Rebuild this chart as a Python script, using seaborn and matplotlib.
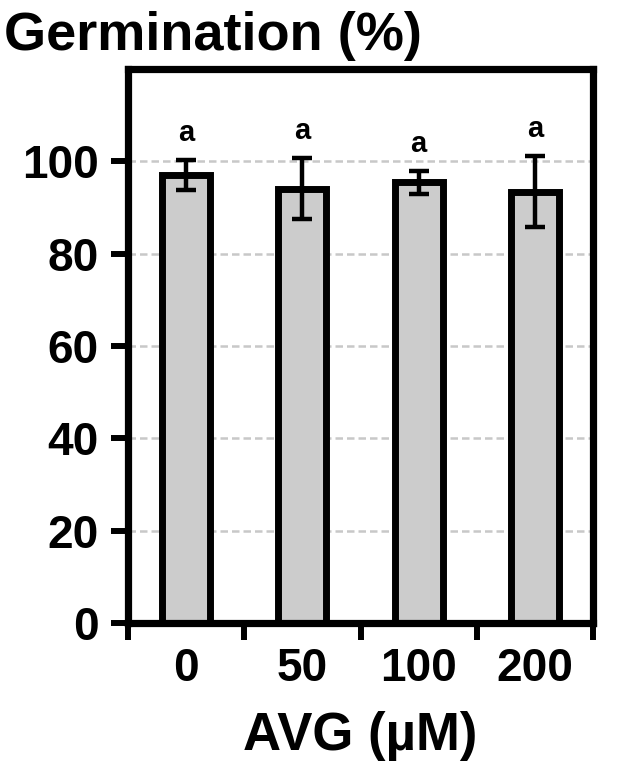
import pandas as pd
import matplotlib
matplotlib.use("Agg")
import matplotlib.pyplot as plt
import seaborn as sns

# values
avg_doses = ["0", "50", "100", "200"]
germination = [97.0, 94.1, 95.5, 93.4]
germination_sd = [3.3, 6.6, 2.5, 7.7]
letters = ["a", "a", "a", "a"]

df = pd.DataFrame({"dose": avg_doses, "germ": germination, "sd": germination_sd})

sns.set_style("white")
plt.rcParams['font.family'] = ['Liberation Sans', 'DejaVu Sans']
plt.rcParams['font.weight'] = 'bold'
plt.rcParams['text.color'] = 'black'
plt.rcParams['axes.labelcolor'] = 'black'
plt.rcParams['xtick.color'] = 'black'
plt.rcParams['ytick.color'] = 'black'

fig = plt.figure(figsize=(6.17, 7.75), dpi=100)
ax = fig.add_axes([128 / 617, 1 - 623 / 775, (593 - 128) / 617, (623 - 69) / 775])

# dashed grid behind the bars
ax.set_axisbelow(True)
for yv in [20, 40, 60, 80, 100]:
    ax.axhline(yv, color='#c8c8c8', lw=1.8, ls=(0, (3, 1.6)), zorder=0)

sns.barplot(data=df, x="dose", y="germ", order=avg_doses, ax=ax,
            width=0.413, color='#cccccc', saturation=1,
            edgecolor='black', linewidth=5, errorbar=None, zorder=2)

xpos = list(range(len(avg_doses)))
ax.errorbar(xpos, df["germ"], yerr=df["sd"], fmt='none', ecolor='black',
            elinewidth=3.2, capsize=7.5, capthick=3.2, zorder=3)

# significance letters
for x, m, s, l in zip(xpos, germination, germination_sd, letters):
    ax.text(x, m + s + 2.8, l, ha='center', va='bottom', fontsize=21, fontweight='bold')

ax.set_xlim(-0.5, 3.5)
ax.set_ylim(0, 120)
ax.set_yticks([0, 20, 40, 60, 80, 100])
ax.set_xticks(xpos)
ax.set_xticklabels(avg_doses)
ax.set_xticks([-0.5, 0.5, 1.5, 2.5, 3.5], minor=True)

for sp in ax.spines.values():
    sp.set_visible(True)
    sp.set_color('black')
    sp.set_linewidth(5.2)

ax.tick_params(axis='y', which='major', left=True, length=12, width=4.3, pad=9,
               labelsize=33, color='black', labelcolor='black')
ax.tick_params(axis='x', which='major', bottom=True, length=0, pad=17, labelsize=33,
               labelcolor='black')
ax.tick_params(axis='x', which='minor', bottom=True, length=12, width=4.3, color='black')
for lab in ax.get_xticklabels() + ax.get_yticklabels():
    lab.set_fontweight('bold')

ax.set_xlabel("")
ax.set_ylabel("")
fig.text(360 / 617, 1 - 750 / 775, "AVG (µM)", ha='center', va='baseline',
         fontsize=38, fontweight='bold', color='black')
fig.text(4 / 617, 1 - 50 / 775, "Germination (%)", ha='left', va='baseline',
         fontsize=39, fontweight='bold', color='black')

fig.savefig("out.png", dpi=100)
